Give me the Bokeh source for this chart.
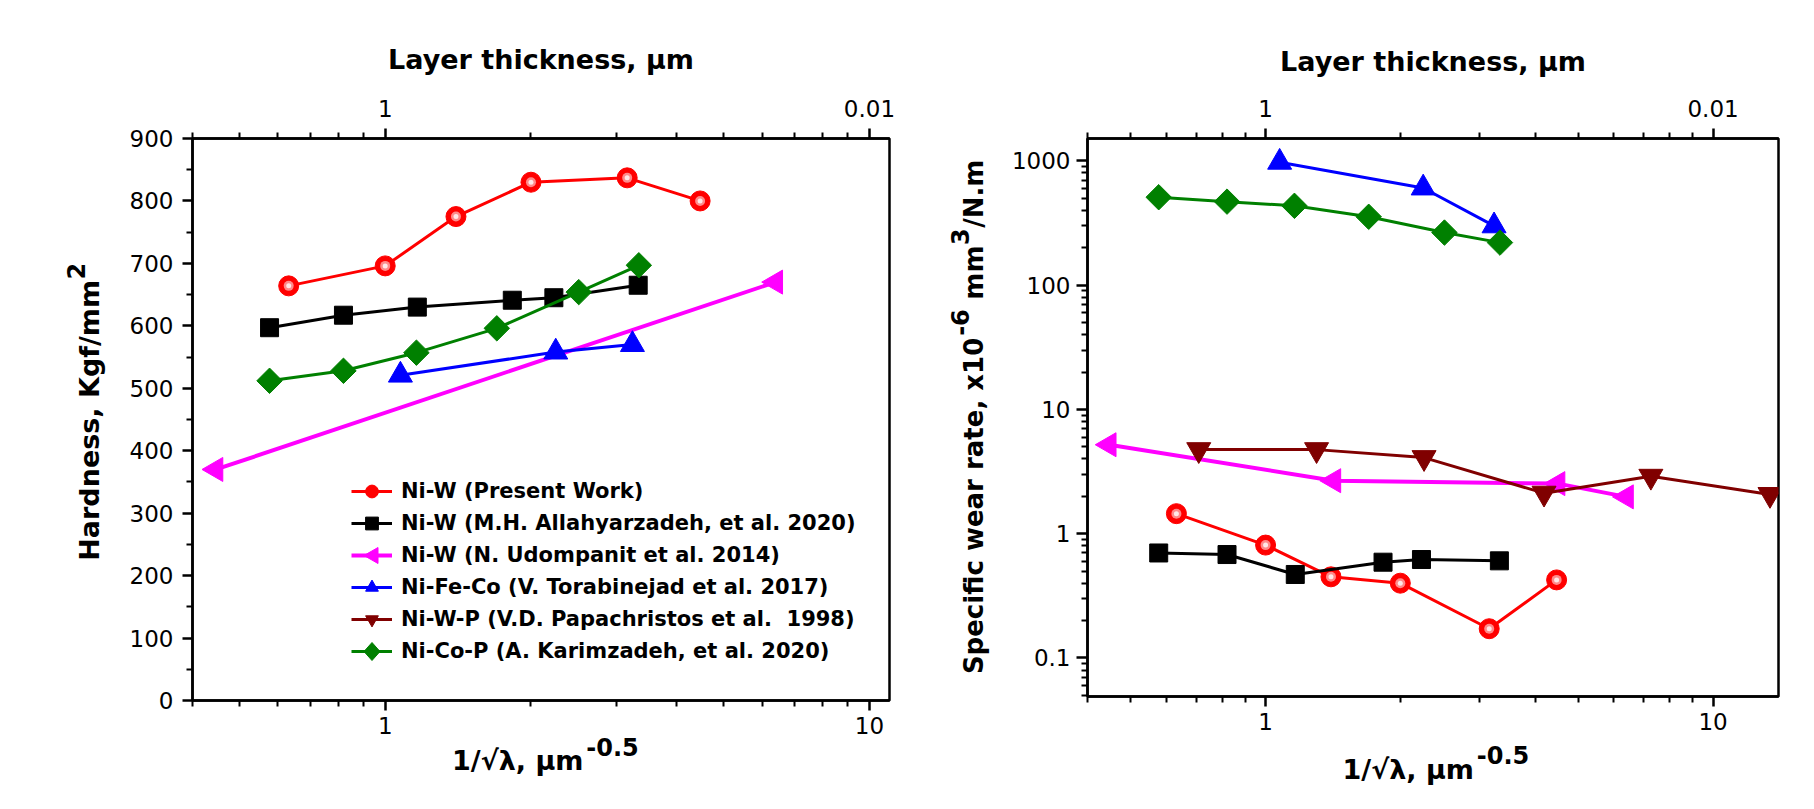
import math
import numpy as np
from bokeh.plotting import figure
from bokeh.models import LogAxis, LinearAxis, FixedTicker, Legend, LegendItem, Range1d, PolyAnnotation
from bokeh.layouts import row
from bokeh.embed import file_html
from bokeh.resources import INLINE

# ---------------- data ----------------
labels = [
    "Ni-W (Present Work)",
    "Ni-W (M.H. Allahyarzadeh, et al. 2020)",
    "Ni-W (N. Udompanit et al. 2014)",
    "Ni-Fe-Co (V. Torabinejad et al. 2017)",
    "Ni-W-P (V.D. Papachristos et al.  1998)",
    "Ni-Co-P (A. Karimzadeh, et al. 2020)",
]

# x = 1/sqrt(lambda), um^-0.5
x_present = [0.632, 1.0, 1.40, 2.0, 3.16, 4.47]
hard_present = [664, 696, 775, 830, 837, 800]
wear_present = [1.45, 0.81, 0.45, 0.40, 0.172, 0.425]

x_allah = [0.577, 0.82, 1.165, 1.83, 2.23, 3.33]
hard_allah = [597, 617, 630, 641, 645, 665]
wear_allah = [0.70, 0.68, 0.47, 0.59, 0.62, 0.605]

x_udom_hard = [0.447, 6.4]
hard_udom = [370, 670]
x_udom_wear = [0.447, 1.42, 4.5, 6.4]
wear_udom = [5.2, 2.67, 2.53, 1.98]

x_tora = [1.075, 2.25, 3.24]
hard_tora = [521, 558, 570]
wear_tora = [975, 605, 300]

x_papa = [0.709, 1.30, 2.26, 4.19, 7.26, 13.4]
wear_papa = [4.75, 4.75, 4.1, 2.12, 2.9, 2.07]
x_papa_hard = [float("nan")]      # no hardness data in this study (legend only)
hard_papa = [float("nan")]

x_kari = [0.577, 0.82, 1.16, 1.70, 2.51, 3.34]
hard_kari = [512, 528, 557, 596, 654, 697]
wear_kari = [510, 470, 435, 355, 265, 220]

x_major = [1, 10]
x_major_labels = ["1", "10"]
x_minor = [0.4, 0.5, 0.6, 0.7, 0.8, 0.9, 2, 3, 4, 5, 6, 7, 8, 9]
top_labels = ["1", "0.01"]          # layer thickness = 1/x^2
hard_ticks = list(range(0, 901, 100))
hard_minor = list(range(50, 900, 100))
wear_ticks = [0.1, 1, 10, 100, 1000]
wear_tick_labels = ["0.1", "1", "10", "100", "1000"]
wear_minor = [0.05, 0.06, 0.07, 0.08, 0.09] + [k * 10.0 ** e for e in range(-1, 3) for k in range(2, 10)]

# axis titles, split into normal text and superscripts
xtitle = [("1/\u221a\u03bb, \u03bcm", False), ("-0.5", True)]
ytitle_hard = [("Hardness, Kgf/mm", False), ("2", True)]
ytitle_wear = [("Specific wear rate, x10", False), ("-6", True), (" ", False),
               ("mm", False), ("3", True), ("/N.m", False)]

colors = ["#ff0000", "#000000", "#ff00ff", "#0000ff", "#800000", "#008000"]

FONT = "DejaVu Sans"
TICK_SIZE = "23px"
TITLE_SIZE = "27px"

# approximate advance widths of DejaVu Sans Bold (em) used to butt title pieces together
EM = {" ": .348, ",": .38, ".": .38, "/": .365, "-": .415, "0": .696, "1": .696, "2": .696,
      "3": .696, "5": .696, "6": .696, "\u221a": .838, "\u03bb": .652, "\u03bc": .722,
      "A": .774, "H": .837, "K": .775, "N": .837, "S": .72, "a": .675, "c": .593, "d": .716,
      "e": .678, "f": .435, "g": .716, "h": .712, "i": .343, "m": 1.042, "n": .712, "p": .716,
      "r": .493, "s": .595, "t": .478, "w": .924, "x": .712}


def text_width(s, px):
    return sum(EM.get(ch, .65) for ch in s) * px


def style_axis(ax, major_out=10, minor_out=6, standoff=8):
    ax.axis_line_width = 2.5
    ax.axis_line_color = "black"
    ax.major_tick_line_width = 2.5
    ax.minor_tick_line_width = 2
    ax.major_tick_out = major_out
    ax.major_tick_in = 0
    ax.minor_tick_out = minor_out
    ax.minor_tick_in = 0
    ax.major_label_text_font = FONT
    ax.major_label_text_font_size = TICK_SIZE
    ax.major_label_text_color = "black"
    ax.major_label_standoff = standoff
    ax.axis_label_text_font = FONT
    ax.axis_label_text_font_size = TITLE_SIZE
    ax.axis_label_text_font_style = "bold"
    ax.axis_label_text_color = "black"


def make_fig(xr, yr, ytype, fw, fh, bl, br, bt, bb):
    p = figure(x_axis_type="log", y_axis_type=ytype, x_range=xr, y_range=yr,
               frame_width=fw, frame_height=fh,
               min_border_left=bl, min_border_right=br, min_border_top=bt, min_border_bottom=bb,
               output_backend="svg", toolbar_location=None,
               background_fill_color="white", border_fill_color="white")
    p.grid.visible = False
    p.outline_line_color = "black"
    p.outline_line_width = 2.5
    p.outline_line_alpha = 1.0
    bottom = p.xaxis[0]
    bottom.ticker = FixedTicker(ticks=x_major, minor_ticks=x_minor)
    bottom.major_label_overrides = {t: l for t, l in zip(x_major, x_major_labels)}
    style_axis(bottom, standoff=6)
    top = LogAxis(ticker=FixedTicker(ticks=x_major, minor_ticks=x_minor),
                  major_label_overrides={t: l for t, l in zip(x_major, top_labels)},
                  axis_label="Layer thickness, \u03bcm")
    style_axis(top, standoff=12)
    p.add_layout(top, "above")
    return p, top


def text_axis(p, side, log, ticks, texts, size, standoff):
    """A bare axis (no line, no ticks) whose tick labels write pieces of an axis title."""
    cls = LogAxis if log else LinearAxis
    ax = cls(ticker=FixedTicker(ticks=ticks, minor_ticks=[]),
             major_label_overrides={t: s for t, s in zip(ticks, texts)})
    ax.axis_line_color = None
    ax.major_tick_line_color = None
    ax.minor_tick_line_color = None
    ax.major_tick_out = 0
    ax.major_tick_in = 0
    ax.minor_tick_out = 0
    ax.minor_tick_in = 0
    ax.major_label_standoff = standoff
    ax.major_label_text_font = FONT
    ax.major_label_text_font_style = "bold"
    ax.major_label_text_font_size = f"{size}px"
    ax.major_label_text_color = "black"
    if side == "left":
        ax.major_label_orientation = "parallel"
    p.add_layout(ax, side)


def add_title(p, side, rng, log, length, center_px, pieces, main_px, sup_px, s_main, s_sup):
    """Lay the pieces end to end, centred at center_px along the frame side."""
    if log:
        lo, hi = math.log10(rng.start), math.log10(rng.end)
        to_val = lambda px: 10 ** (lo + px / length * (hi - lo))
    else:
        to_val = lambda px: rng.start + px / length * (rng.end - rng.start)
    widths = [text_width(s, sup_px if sup else main_px) + (1 if sup else 0) for s, sup in pieces]
    pos = center_px - sum(widths) / 2
    main_t, main_s, sup_t, sup_s = [], [], [], []
    for (s, sup), w in zip(pieces, widths):
        c = to_val(pos + w / 2)
        pos += w
        if s.strip() == "":
            continue
        (sup_t if sup else main_t).append(c)
        (sup_s if sup else main_s).append(s)
    if side == "below":      # superscripts sit in the axis nearer to the frame
        text_axis(p, side, log, sup_t, sup_s, sup_px, s_sup)
        text_axis(p, side, log, main_t, main_s, main_px, s_main)
    else:                    # left: main text nearer to the frame, superscripts further out
        text_axis(p, side, log, main_t, main_s, main_px, s_main)
        text_axis(p, side, log, sup_t, sup_s, sup_px, s_sup)


def add_series(p, x, y, color, marker, size, angle=0.0, lw=3):
    ln = p.line(x, y, line_color=color, line_width=lw)
    sc = p.scatter(x, y, marker=marker, size=size, angle=angle,
                   fill_color=color, line_color=color)
    return ln, sc


def add_spheres(p, x, y):
    p.scatter(x, y, marker="circle", size=10, fill_color="#ff8a8a", line_color=None)
    p.scatter(x, y, marker="circle", size=5, fill_color="#ffe8e8", line_color=None)


# ---------------- left: hardness ----------------
xr1, yr1 = Range1d(0.4, 11.0), Range1d(0, 900)
FW1, FH1 = 697, 562
p1, top1 = make_fig(xr1, yr1, "linear", FW1, FH1, 192, 16, 138, 109)
top1.axis_label_standoff = 22
ly = p1.yaxis[0]
ly.ticker = FixedTicker(ticks=hard_ticks, minor_ticks=hard_minor)
style_axis(ly, standoff=9)

l_present, s_present = add_series(p1, x_present, hard_present, colors[0], "circle", 20)
add_spheres(p1, x_present, hard_present)
l_allah, s_allah = add_series(p1, x_allah, hard_allah, colors[1], "square", 18)
l_udom, s_udom = add_series(p1, x_udom_hard, hard_udom, colors[2], "triangle", 24, angle=np.pi / 2, lw=4)
l_tora, s_tora = add_series(p1, x_tora, hard_tora, colors[3], "triangle", 24)
l_papa, s_papa = add_series(p1, x_papa_hard, hard_papa, colors[4], "inverted_triangle", 24)
l_kari, s_kari = add_series(p1, x_kari, hard_kari, colors[5], "square", 18, angle=np.pi / 4)

legend_renderers = [[l_present, s_present], [l_allah, s_allah], [l_udom],
                    [l_tora, s_tora], [l_papa, s_papa], [l_kari]]
items = [LegendItem(label=lab, renderers=r) for lab, r in zip(labels, legend_renderers)]
LEG_X, LEG_Y, ROW_H, GLYPH_W = 159, 33, 32, 41
legend = Legend(items=items, location=(LEG_X, LEG_Y), padding=0, margin=0, spacing=0,
                glyph_width=GLYPH_W, glyph_height=ROW_H, label_height=ROW_H, label_standoff=9,
                label_text_font=FONT, label_text_font_style="bold", label_text_font_size="21px",
                label_text_color="black",
                background_fill_alpha=0, border_line_alpha=0)
p1.add_layout(legend)

# legend symbols that Bokeh cannot rotate: left-pointing triangle, diamond (screen units, frame-relative)
gcx = LEG_X + GLYPH_W / 2
row3 = LEG_Y + ROW_H * 6 - ROW_H * 2.5
row6 = LEG_Y + ROW_H * 6 - ROW_H * 5.5
p1.add_layout(PolyAnnotation(xs=[gcx - 8, gcx + 6, gcx + 6], ys=[row3, row3 + 8, row3 - 8],
                             xs_units="screen", ys_units="screen",
                             fill_color=colors[2], fill_alpha=1, line_color=colors[2], line_alpha=1))
p1.add_layout(PolyAnnotation(xs=[gcx - 8, gcx, gcx + 8, gcx], ys=[row6, row6 + 9, row6, row6 - 9],
                             xs_units="screen", ys_units="screen",
                             fill_color=colors[5], fill_alpha=1, line_color=colors[5], line_alpha=1))
add_title(p1, "below", xr1, True, FW1, 544 - 192, xtitle, 27, 24, -14, 1)
add_title(p1, "left", yr1, False, FH1, FH1 / 2 + 8, ytitle_hard, 27, 24, 21, -14)

# ---------------- right: wear rate ----------------
xr2, yr2 = Range1d(0.4, 14.0), Range1d(0.049, 1514)
FW2, FH2 = 691, 558
p2, top2 = make_fig(xr2, yr2, "log", FW2, FH2, 182, 36, 129, 122)
top2.axis_label_standoff = 20
ry = p2.yaxis[0]
ry.ticker = FixedTicker(ticks=wear_ticks, minor_ticks=wear_minor)
ry.major_label_overrides = {t: l for t, l in zip(wear_ticks, wear_tick_labels)}
style_axis(ry, major_out=11, standoff=6)

add_series(p2, x_present, wear_present, colors[0], "circle", 20)
add_spheres(p2, x_present, wear_present)
add_series(p2, x_allah, wear_allah, colors[1], "square", 18)
add_series(p2, x_udom_wear, wear_udom, colors[2], "triangle", 24, angle=np.pi / 2, lw=4)
add_series(p2, x_tora, wear_tora, colors[3], "triangle", 24)
add_series(p2, x_papa, wear_papa, colors[4], "inverted_triangle", 24)
add_series(p2, x_kari, wear_kari, colors[5], "square", 18, angle=np.pi / 4)
add_title(p2, "below", xr2, True, FW2, 1434.5 - 1087, xtitle, 27, 24, -13, 13)
add_title(p2, "left", yr2, True, FH2, FH2 / 2, ytitle_wear, 26, 24, 19, -13)

layout = row(p1, p2)
open("out.html", "w").write(file_html(layout, INLINE))
